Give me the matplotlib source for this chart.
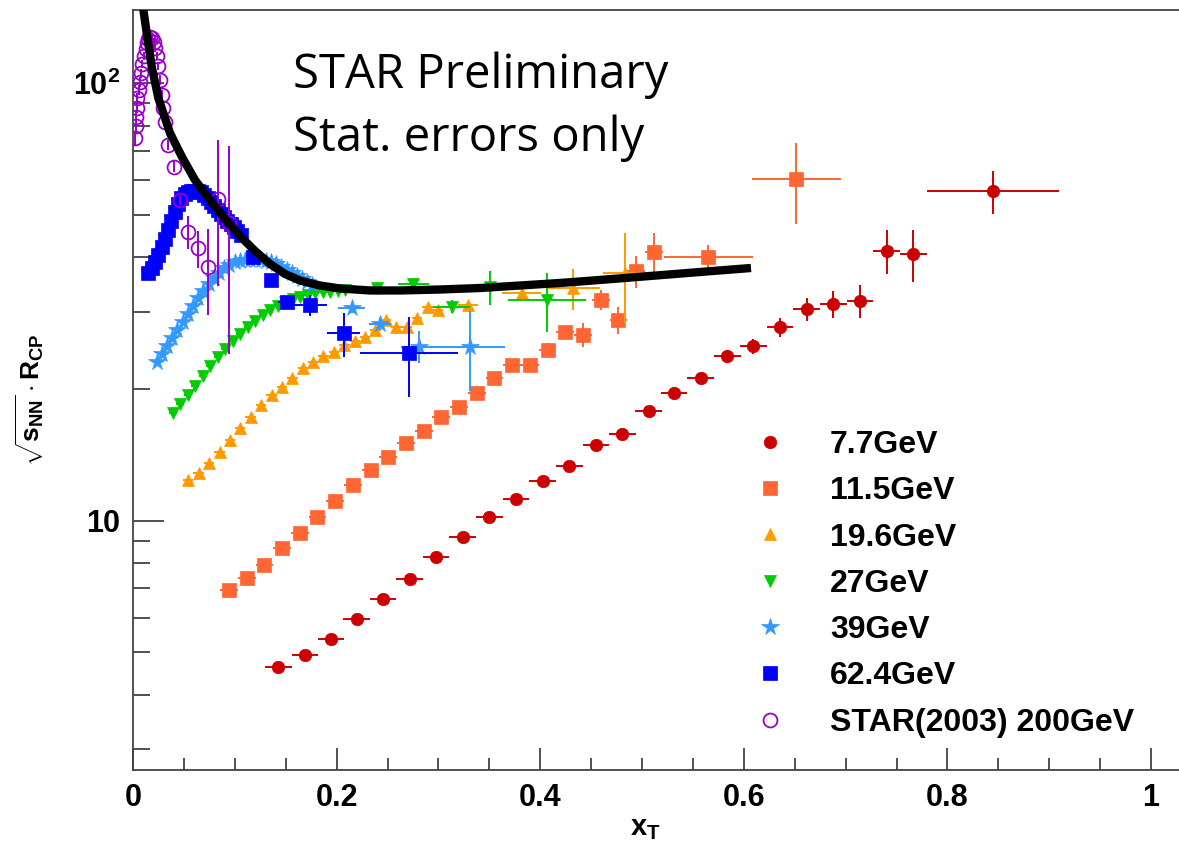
import matplotlib
matplotlib.use('Agg')
import matplotlib.pyplot as plt
import matplotlib.ticker as mticker
from matplotlib.lines import Line2D

plt.rcParams['font.family'] = ['Liberation Sans', 'DejaVu Sans']
plt.rcParams['font.weight'] = 'bold'
plt.rcParams['mathtext.fontset'] = 'custom'
plt.rcParams['mathtext.rm'] = 'Liberation Sans:bold'
plt.rcParams['mathtext.it'] = 'Liberation Sans:bold'
plt.rcParams['mathtext.bf'] = 'Liberation Sans:bold'

# ---- 7.7 GeV
x77 = [0.1427, 0.169, 0.1945, 0.2197, 0.2456, 0.2718, 0.2976, 0.3239, 0.35, 0.3762, 0.4025, 0.4286, 0.4548,
       0.4806, 0.5066, 0.5314, 0.5577, 0.5838, 0.6093, 0.6356, 0.6618, 0.6879, 0.7142, 0.7404, 0.7665, 0.8445]
y77 = [4.64, 4.92, 5.37, 5.96, 6.62, 7.36, 8.26, 9.16, 10.18, 11.21, 12.34, 13.36, 14.86,
       15.78, 17.81, 19.61, 21.23, 23.79, 25.08, 27.65, 30.44, 31.26, 31.79, 41.36, 40.65, 56.7]
ex77 = [0.0131, 0.0131, 0.0131, 0.0131, 0.0131, 0.0131, 0.0131, 0.0131, 0.0131, 0.0131, 0.0131, 0.0131, 0.0131,
        0.0131, 0.0131, 0.0131, 0.0131, 0.0131, 0.0131, 0.0131, 0.0131, 0.0131, 0.0131, 0.0131, 0.0131, 0.065]
ey77 = [0.05, 0.05, 0.06, 0.07, 0.08, 0.09, 0.1, 0.12, 0.14, 0.16, 0.2, 0.25, 0.3,
        0.35, 0.4, 0.5, 0.6, 0.8, 1.0, 1.4, 1.8, 2.2, 2.7, 4.7, 5.6, 6.4]

# ---- 11.5 GeV
x115 = [0.0943, 0.1117, 0.1291, 0.1465, 0.1639, 0.1812, 0.1986, 0.216, 0.2334, 0.2508, 0.2682, 0.2856, 0.3029,
        0.3203, 0.3377, 0.3551, 0.3725, 0.3899, 0.4073, 0.4247, 0.442, 0.4594, 0.4768, 0.4942, 0.5116, 0.5651, 0.6513]
y115 = [6.94, 7.38, 7.92, 8.64, 9.36, 10.21, 11.12, 12.07, 13.06, 14.01, 15.03, 15.99, 17.29,
        18.22, 19.56, 21.16, 22.69, 22.69, 24.56, 27.04, 26.58, 31.95, 28.75, 37.18, 41.1, 40.07, 60.3]
ex115 = [0.0087, 0.0087, 0.0087, 0.0087, 0.0087, 0.0087, 0.0087, 0.0087, 0.0087, 0.0087, 0.0087, 0.0087, 0.0087,
         0.0087, 0.0087, 0.0087, 0.0087, 0.0087, 0.0087, 0.0087, 0.0087, 0.0087, 0.0087, 0.0087, 0.0087, 0.0437, 0.0437]
ey115 = [0.05, 0.05, 0.06, 0.07, 0.08, 0.09, 0.1, 0.12, 0.14, 0.16, 0.2, 0.25, 0.3,
         0.35, 0.4, 0.5, 0.6, 0.7, 0.9, 1.0, 1.7, 1.7, 2.0, 3.1, 4.3, 2.6, 12.7]

# ---- 19.6 GeV
x196 = [0.0543, 0.0645, 0.0747, 0.085, 0.0952, 0.1054, 0.1156, 0.1258, 0.1361, 0.1463, 0.1565, 0.1667, 0.1769,
        0.1871, 0.1973, 0.2076, 0.2178, 0.228, 0.2382, 0.2484, 0.2587, 0.2689, 0.2791, 0.2893, 0.2995,
        0.3294, 0.3818, 0.4325, 0.4833]
y196 = [12.39, 12.85, 13.55, 14.38, 15.29, 16.26, 17.29, 18.36, 19.38, 20.25, 21.16, 22.34, 23.06,
        23.79, 24.3, 25.15, 25.68, 26.23, 27.29, 28.75, 27.76, 27.76, 29.01, 30.84, 30.31,
        31.12, 33.1, 33.98, 36.77]
ex196 = [0.0051, 0.0051, 0.0051, 0.0051, 0.0051, 0.0051, 0.0051, 0.0051, 0.0051, 0.0051, 0.0051, 0.0051, 0.0051,
         0.0051, 0.0051, 0.0051, 0.0051, 0.0051, 0.0051, 0.0051, 0.0051, 0.0051, 0.0051, 0.0051, 0.0051,
         0.0098, 0.019, 0.026, 0.022]
ey196 = [0.05, 0.05, 0.06, 0.06, 0.07, 0.08, 0.09, 0.1, 0.11, 0.12, 0.13, 0.15, 0.17,
         0.19, 0.21, 0.24, 0.27, 0.3, 0.34, 0.38, 0.43, 0.5, 0.55, 0.6, 0.7,
         0.5, 1.0, 3.6, 8.6]

# ---- 27 GeV
x27 = [0.039, 0.0464, 0.0537, 0.0611, 0.0685, 0.0758, 0.0832, 0.0906, 0.0979, 0.1053, 0.1127, 0.12,
       0.1274, 0.1348, 0.1421, 0.1495, 0.1569, 0.1642, 0.1716, 0.179, 0.1863, 0.1937, 0.2011, 0.2084,
       0.2394, 0.2753, 0.3131, 0.3507, 0.4064]
y27 = [17.63, 18.48, 19.38, 20.32, 21.41, 22.57, 23.67, 24.7, 25.75, 26.72, 27.72, 28.6,
       29.52, 30.31, 30.95, 31.62, 32.12, 32.46, 32.81, 33.06, 33.24, 33.33, 33.5, 33.59,
       33.98, 34.75, 30.87, 34.21, 31.95]
ex27 = [0.0037, 0.0037, 0.0037, 0.0037, 0.0037, 0.0037, 0.0037, 0.0037, 0.0037, 0.0037, 0.0037, 0.0037,
        0.0037, 0.0037, 0.0037, 0.0037, 0.0037, 0.0037, 0.0037, 0.0037, 0.0037, 0.0037, 0.0037, 0.0037,
        0.011, 0.015, 0.018, 0.0155, 0.0385]
ey27 = [0.05, 0.05, 0.06, 0.06, 0.07, 0.08, 0.09, 0.1, 0.11, 0.12, 0.13, 0.14,
        0.15, 0.16, 0.17, 0.18, 0.19, 0.2, 0.21, 0.22, 0.23, 0.25, 0.27, 0.3,
        0.4, 0.5, 1.1, 3.1, 4.9]

# ---- 39 GeV
x39 = [0.0233, 0.0284, 0.0335, 0.0386, 0.0437, 0.0488, 0.0539, 0.059, 0.0641, 0.0692, 0.0743, 0.0794,
       0.0845, 0.0896, 0.0947, 0.0998, 0.1049, 0.11, 0.1151, 0.1202, 0.1253, 0.1304, 0.1355, 0.1406,
       0.1457, 0.1508, 0.1559, 0.161, 0.1661, 0.1712, 0.1763, 0.2148, 0.2426, 0.2812, 0.331]
y39 = [23.06, 24.04, 25.08, 26.16, 27.29, 28.46, 29.69, 30.95, 32.28, 33.5, 34.75, 35.86,
       36.83, 37.71, 38.41, 38.92, 39.22, 39.43, 39.53, 39.53, 39.43, 39.22, 38.92, 38.51,
       38.01, 37.41, 36.83, 36.25, 35.68, 35.12, 34.57, 30.58, 28.16, 24.99, 24.99]
ex39 = [0.0026, 0.0026, 0.0026, 0.0026, 0.0026, 0.0026, 0.0026, 0.0026, 0.0026, 0.0026, 0.0026, 0.0026,
        0.0026, 0.0026, 0.0026, 0.0026, 0.0026, 0.0026, 0.0026, 0.0026, 0.0026, 0.0026, 0.0026, 0.0026,
        0.0026, 0.0026, 0.0026, 0.0026, 0.0026, 0.0026, 0.0026, 0.013, 0.011, 0.018, 0.034]
ey39 = [0.1, 0.1, 0.1, 0.1, 0.1, 0.1, 0.1, 0.1, 0.1, 0.1, 0.1, 0.1,
        0.1, 0.1, 0.1, 0.1, 0.15, 0.15, 0.15, 0.15, 0.2, 0.2, 0.2, 0.2,
        0.25, 0.25, 0.3, 0.3, 0.35, 0.4, 0.45, 0.8, 0.9, 2.1, 5.2]

# ---- 62.4 GeV
x624 = [0.015, 0.0183, 0.0215, 0.0248, 0.028, 0.0312, 0.0345, 0.0377, 0.041, 0.0442, 0.0475, 0.0507,
        0.0539, 0.0572, 0.0604, 0.0637, 0.0669, 0.0701, 0.0734, 0.0766, 0.0799, 0.0831, 0.0863, 0.0896,
        0.0928, 0.0961, 0.0993, 0.1025, 0.1058, 0.1182, 0.1351, 0.1508, 0.1742, 0.207, 0.2709]
y624 = [36.73, 37.81, 39.02, 40.49, 42.23, 44.05, 46.19, 48.42, 50.77, 52.96, 54.66, 55.82,
        56.41, 56.71, 56.8, 56.71, 56.27, 55.53, 54.66, 53.52, 52.41, 51.31, 50.24, 49.45,
        48.42, 47.67, 46.92, 45.95, 44.99, 40.13, 35.4, 31.62, 31.07, 26.81, 24.14]
ex624 = [0.0016, 0.0016, 0.0016, 0.0016, 0.0016, 0.0016, 0.0016, 0.0016, 0.0016, 0.0016, 0.0016, 0.0016,
         0.0016, 0.0016, 0.0016, 0.0016, 0.0016, 0.0016, 0.0016, 0.0016, 0.0016, 0.0016, 0.0016, 0.0016,
         0.0016, 0.0016, 0.0016, 0.0016, 0.0016, 0.006, 0.005, 0.008, 0.0164, 0.0164, 0.048]
ey624 = [0.1, 0.1, 0.1, 0.1, 0.1, 0.1, 0.1, 0.1, 0.1, 0.1, 0.1, 0.1,
         0.1, 0.1, 0.1, 0.1, 0.1, 0.1, 0.1, 0.1, 0.1, 0.1, 0.15, 0.15,
         0.15, 0.2, 0.2, 0.25, 0.3, 0.5, 0.6, 0.8, 1.7, 3.1, 5.0]

# ---- STAR(2003) 200 GeV
x200 = [0.002, 0.0025, 0.003, 0.0039, 0.0044, 0.0059, 0.0069, 0.0079, 0.0093, 0.0108, 0.0123, 0.0138,
        0.0152, 0.0167, 0.0187, 0.0206, 0.0221, 0.0236, 0.025, 0.0265, 0.028, 0.0295, 0.0314, 0.0347,
        0.0406, 0.0462, 0.0543, 0.0641, 0.074, 0.0838, 0.094]
y200 = [74.95, 79.8, 83.7, 87.8, 92.5, 96.5, 100.6, 105.5, 110.6, 115.4, 119.7, 123.6,
        126.2, 127.5, 126.9, 124.2, 120.3, 115.4, 109.5, 101.7, 94.0, 87.8, 81.7, 72.2,
        64.5, 54.1, 45.8, 41.9, 37.96, 54.35, 48.0]
ey200 = [3.0, 3.0, 2.5, 2.5, 2.5, 2.5, 2.5, 2.5, 2.5, 2.5, 2.5, 2.5,
         2.5, 2.5, 2.5, 2.5, 2.5, 2.5, 2.5, 2.5, 2.5, 2.5, 2.0, 2.0,
         1.8, 1.5, 4.0, 4.0, 8.5, 20.0, 24.0]

# ---- black curve
xcurve = [0.0088, 0.0135, 0.0184, 0.0249, 0.0363, 0.0481, 0.0609, 0.0756, 0.0904, 0.1051, 0.1198, 0.1346,
          0.1493, 0.164, 0.1837, 0.2033, 0.2328, 0.2623, 0.3016, 0.3409, 0.3802, 0.4194, 0.4587, 0.5079,
          0.557, 0.6071]
ycurve = [155.0, 130.0, 109.1, 92.5, 76.96, 67.83, 60.08, 54.08, 48.94, 44.74, 41.36, 38.62,
          36.64, 35.4, 34.48, 33.94, 33.59, 33.59, 33.76, 34.03, 34.48, 34.94, 35.5, 36.25,
          37.02, 37.81]

labels = ['7.7GeV', '11.5GeV', '19.6GeV', '27GeV', '39GeV', '62.4GeV', 'STAR(2003) 200GeV']
xs = [x77, x115, x196, x27, x39, x624, x200]
ys = [y77, y115, y196, y27, y39, y624, y200]
exs = [ex77, ex115, ex196, ex27, ex39, ex624, None]
eys = [ey77, ey115, ey196, ey27, ey39, ey624, ey200]
colors = ['#cc0000', '#ff6633', '#ff9900', '#00cc00', '#3399ff', '#0000ff', '#9900cc']
markers = ['o', 's', '^', 'v', '*', 's', 'o']
sizes = [9, 9.5, 9, 9, 13, 10, 10]

fig = plt.figure(figsize=(11.79, 8.47), dpi=100)
ax = fig.add_axes([133/1179, 77/847, 1046/1179, 760/847])
ax.set_yscale('log')
ax.set_xlim(0, 1.0275)
ax.set_ylim(2.692, 147)

handles = []
for i in range(len(labels)):
    hollow = (i == 6)
    ax.errorbar(xs[i], ys[i], xerr=exs[i], yerr=eys[i], fmt=markers[i], color=colors[i],
                ms=sizes[i], mfc='none' if hollow else colors[i], mec=colors[i],
                mew=1.3 if hollow else 0.5, elinewidth=1.4, capsize=0, zorder=3 + i)
    handles.append(Line2D([], [], ls='none', marker=markers[i], color=colors[i], ms=sizes[i],
                          mfc='none' if hollow else colors[i], mec=colors[i],
                          mew=1.3 if hollow else 0.5))

ax.plot(xcurve, ycurve, color='black', lw=6, zorder=20, solid_capstyle='butt')

# axes / ticks (ROOT style, ticks inside)
ax.set_xticks([0, 0.2, 0.4, 0.6, 0.8, 1.0])
ax.set_xticklabels(['0', '0.2', '0.4', '0.6', '0.8', '1'])
ax.xaxis.set_minor_locator(mticker.MultipleLocator(0.05))
ax.set_yticks([10, 100])
ax.set_yticklabels(['10', r'$10^{2}$'])
ax.yaxis.set_minor_locator(mticker.LogLocator(base=10, subs=[2, 3, 4, 5, 6, 7, 8, 9]))
ax.yaxis.set_minor_formatter(mticker.NullFormatter())
ax.tick_params(axis='x', which='major', direction='in', length=16, width=1.2, pad=9, labelsize=22,
               colors='#333333', labelcolor='black')
ax.tick_params(axis='x', which='minor', direction='in', length=8.5, width=1.2, colors='#333333')
ax.tick_params(axis='y', which='major', direction='in', length=22, width=1.2, pad=9, labelsize=22,
               colors='#333333', labelcolor='black')
ax.tick_params(axis='y', which='minor', direction='in', length=12, width=1.2, colors='#333333')
for s in ax.spines.values():
    s.set_linewidth(1.3)
    s.set_color('#444444')
ax.spines['right'].set_visible(False)

fig.text(645/1179, 1 - 828/847, r'$x_{T}$', fontsize=21, ha='center', va='center')
fig.text(30/1179, 1 - 400/847, r'$\sqrt{s_{NN}}\cdot R_{CP}$', fontsize=19, rotation=90,
         ha='center', va='center')

fig.text(293/1179, 1 - 88/847, 'STAR Preliminary', fontsize=34, family='Open Sans', weight='normal',
         va='baseline', ha='left')
fig.text(293/1179, 1 - 151/847, 'Stat. errors only', fontsize=34, family='Open Sans', weight='normal',
         va='baseline', ha='left')

ax.legend(handles, labels, loc='upper left', bbox_to_anchor=(754/1179, 1 - 430/847),
          bbox_transform=fig.transFigure, frameon=False, fontsize=23, handlelength=1.0,
          handletextpad=1.38, labelspacing=0.51, borderpad=0, borderaxespad=0)

plt.savefig('out.png', dpi=100)
plt.close()
